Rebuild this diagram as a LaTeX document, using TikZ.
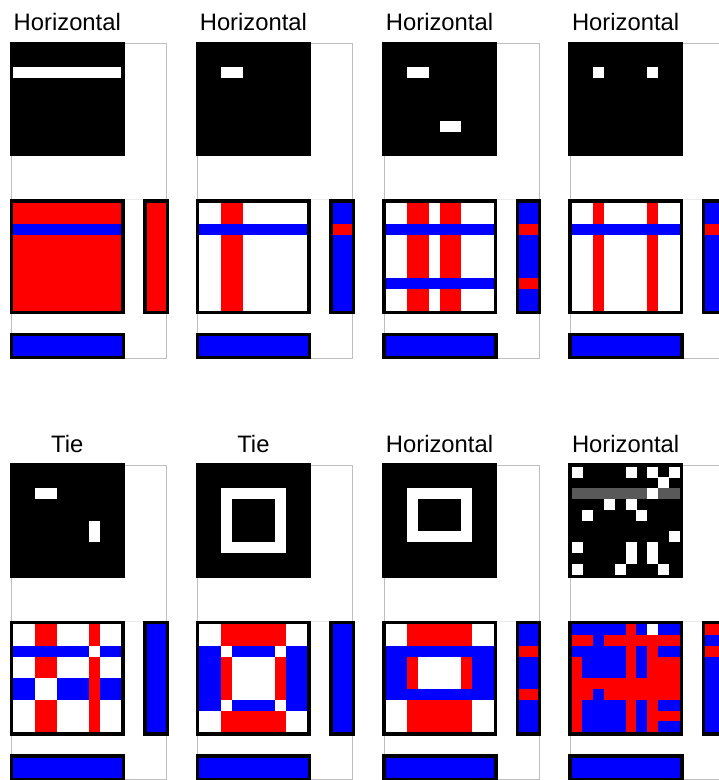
\documentclass[tikz,border=0pt]{standalone}
\usepackage{fontspec}
\setmainfont{Liberation Sans}
\colorlet{colR}{red}
\colorlet{colB}{blue}
\colorlet{colW}{white}
\colorlet{colK}{black}
\colorlet{colG}{black!65}
\newcount\cellidx
\makeatletter
\newcommand\cellrow[3]{\def\cr@x{#1}\def\cr@y{#2}\cellidx=0 \edef\cr@s{#3}\expandafter\cr@parse\cr@s\relax}
\def\cr@parse#1{\ifx\relax#1\else\ifx-#1\else\fill[col#1] ({\cr@x+\the\cellidx*10.8},{\cr@y}) rectangle +(10.9,10.9);\fi\advance\cellidx by 1 \expandafter\cr@parse\fi}
\newcommand\cellcol[4]{\def\cc@x{#1}\def\cc@y{#2}\def\cc@w{#3}\cellidx=0 \edef\cc@s{#4}\expandafter\cc@parse\cc@s\relax}
\def\cc@parse#1{\ifx\relax#1\else\fill[col#1] ({\cc@x},{\cc@y+\the\cellidx*10.8}) rectangle +(\cc@w,10.9);\advance\cellidx by 1 \expandafter\cc@parse\fi}
\makeatother
\tikzset{
  framec/.style={draw=black!25, line width=0.8pt},
  faintc/.style={draw=black!8, line width=0.8pt},
  titlec/.style={font=\fontsize{23.8}{28}\selectfont, inner sep=0pt, anchor=base},
  thickborder/.style={draw=black, line width=3.3pt},
}
\newcommand\panel[7]{%
\begin{scope}[shift={(#1,#2)}]
  \draw[framec] (1.7,1.6) rectangle (156.7,316.3);
  \draw[faintc] (114.6,157.6) -- (156.7,157.6);
  \node[titlec] (#4) at (57.3,-11) {#3};
  \fill[black] (0,0) rectangle (114.6,114.6);
  \foreach \s [count=\r from 0] in {#5} {\cellrow{3.3}{3.3+\r*10.8}{\s}}
  \foreach \s [count=\r from 0] in {#6} {\cellrow{3.3}{160.9+\r*10.8}{\s}}
  \draw[thickborder] (1.65,159.25) rectangle (112.95,270.55);
  \cellcol{136.6}{160.9}{19.1}{#7}
  \draw[thickborder] (134.95,159.25) rectangle (157.35,270.55);
  \fill[blue] (0,291) rectangle (115.3,317.6);
  \draw[thickborder] (1.65,292.65) rectangle (113.65,315.95);
\end{scope}}
\begin{document}
\begin{tikzpicture}[x=1pt,y=-1pt]
\useasboundingbox (0,0) rectangle (719,780);
\clip (0,0) rectangle (719,780);
\fill[white] (0,0) rectangle (719,780);
% Panel 1
\panel{10}{41.7}{Horizontal}{t1}
 {----------,----------,WWWWWWWWWW}
 {RRRRRRRRRR,RRRRRRRRRR,BBBBBBBBBB,RRRRRRRRRR,RRRRRRRRRR,RRRRRRRRRR,RRRRRRRRRR,RRRRRRRRRR,RRRRRRRRRR,RRRRRRRRRR}
 {RRRRRRRRRR}
% Panel 2
\panel{196.1}{41.7}{Horizontal}{t2}
 {----------,----------,--WW------}
 {WWRRWWWWWW,WWRRWWWWWW,BBBBBBBBBB,WWRRWWWWWW,WWRRWWWWWW,WWRRWWWWWW,WWRRWWWWWW,WWRRWWWWWW,WWRRWWWWWW,WWRRWWWWWW}
 {BBRBBBBBBB}
% Panel 3
\panel{382.2}{41.7}{Horizontal}{t3}
 {----------,----------,--WW------,----------,----------,----------,----------,-----WW---}
 {WWRRWRRWWW,WWRRWRRWWW,BBBBBBBBBB,WWRRWRRWWW,WWRRWRRWWW,WWRRWRRWWW,WWRRWRRWWW,BBBBBBBBBB,WWRRWRRWWW,WWRRWRRWWW}
 {BBRBBBBRBB}
% Panel 4
\panel{568.3}{41.7}{Horizontal}{t4}
 {----------,----------,--W----W--}
 {WWRWWWWRWW,WWRWWWWRWW,BBBBBBBBBB,WWRWWWWRWW,WWRWWWWRWW,WWRWWWWRWW,WWRWWWWRWW,WWRWWWWRWW,WWRWWWWRWW,WWRWWWWRWW}
 {BBRBBBBBBB}
% Panel 5
\panel{10}{463.3}{Tie}{t5}
 {----------,----------,--WW------,----------,----------,-------W--,-------W--}
 {WWRRWWWRWW,WWRRWWWRWW,BBBBBBBWBB,WWRRWWWRWW,WWRRWWWRWW,BBWWBBBRBB,BBWWBBBRBB,WWRRWWWRWW,WWRRWWWRWW,WWRRWWWRWW}
 {BBBBBBBBBB}
% Panel 6
\panel{196.1}{463.3}{Tie}{t6}
 {----------,----------,--WWWWWW--,--W----W--,--W----W--,--W----W--,--W----W--,--WWWWWW--}
 {WWRRRRRRWW,WWRRRRRRWW,BBWBBBBWBB,BBRWWWWRBB,BBRWWWWRBB,BBRWWWWRBB,BBRWWWWRBB,BBWBBBBWBB,WWRRRRRRWW,WWRRRRRRWW}
 {BBBBBBBBBB}
% Panel 7
\panel{382.2}{463.3}{Horizontal}{t7}
 {----------,----------,--WWWWWW--,--W----W--,--W----W--,--W----W--,--WWWWWW--}
 {WWRRRRRRWW,WWRRRRRRWW,BBBBBBBBBB,BBRWWWWRBB,BBRWWWWRBB,BBRWWWWRBB,BBBBBBBBBB,WWRRRRRRWW,WWRRRRRRWW,WWRRRRRRWW}
 {BBRBBBRBBB}
% Panel 8
\panel{568.3}{463.3}{Horizontal}{t8}
 {W----W-W-W,--------W-,GGGGGGGWGG,---W-W----,-W----W---,----------,---------W,W----W-W--,-----W-W--,W---W---W-}
 {BBBBBRBWBB,RRBRRRRRRR,BBBBBRBRBB,RBBBBRBRRR,RBBBBRBRRR,RRRRRRRRRR,RRBRRRRRRR,RBBBBRBRBB,RBBBBRBRRR,RBBBBRBRBB}
 {RBRBBBBBBB}
\end{tikzpicture}
\end{document}
